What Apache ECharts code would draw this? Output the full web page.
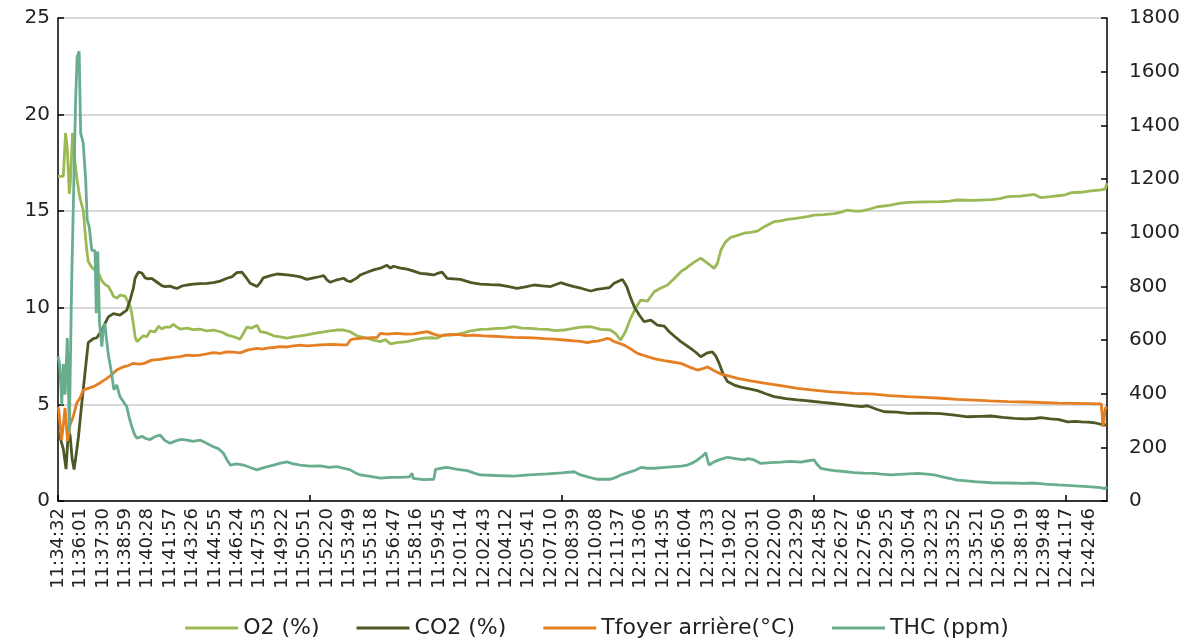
<!DOCTYPE html>
<html>
<head>
<meta charset="utf-8">
<title>Combustion</title>
<script src="https://cdn.jsdelivr.net/npm/echarts@6/dist/echarts.min.js"></script>
<style>
  html, body { margin: 0; padding: 0; background: #fff; }
  #chart { width: 1194px; height: 644px; }
</style>
</head>
<body>
<div id="chart"></div>
<script>
// Acquisition starts at 11:34:32 and is logged once per second.
const startClock = [11, 34, 32];
const sampleCount = 4166;

// Series: [seconds since start, value]
// O2 (%) and CO2 (%) on the left axis
const o2 = [
  [0,16.8],[21,16.8],[30,19.05],[37,18.2],[45,15.9],[49,16.5],[58,19.05],[65,17.8],[74,16.8],[83,16.0],[87,15.7],[101,15.0],[107,14.0],[114,13.0],[120,12.4],[134,12.1],[154,11.85],[164,11.7],[174,11.4],[187,11.2],[200,11.1],[213,10.8],[220,10.6],[233,10.5],[246,10.65],[253,10.7],[266,10.6],[273,10.5],[286,10.1],[293,9.7],[300,9.1],[306,8.5],[313,8.25],[326,8.4],[339,8.55],[352,8.5],[366,8.8],[385,8.75],[399,9.05],[412,8.9],[425,9.0],[445,9.0],[458,9.15],[472,9.0],[485,8.9],[512,8.95],[537,8.87],[564,8.9],[591,8.8],[617,8.85],[644,8.76],[657,8.7],[671,8.6],[697,8.5],[723,8.38],[737,8.7],[750,9.0],[770,8.95],[790,9.1],[803,8.77],[830,8.7],[856,8.55],[882,8.5],[909,8.43],[935,8.5],[962,8.55],[988,8.6],[1028,8.7],[1055,8.75],[1081,8.8],[1108,8.85],[1134,8.85],[1161,8.75],[1187,8.55],[1220,8.45],[1253,8.33],[1280,8.25],[1300,8.35],[1320,8.13],[1346,8.2],[1386,8.25],[1420,8.35],[1452,8.43],[1480,8.45],[1505,8.43],[1532,8.6],[1560,8.58],[1585,8.62],[1610,8.7],[1638,8.81],[1677,8.88],[1710,8.9],[1744,8.93],[1775,8.95],[1810,9.02],[1843,8.95],[1876,8.93],[1910,8.9],[1943,8.88],[1975,8.82],[2009,8.85],[2040,8.92],[2075,9.0],[2115,9.02],[2155,8.88],[2194,8.85],[2215,8.65],[2234,8.33],[2254,8.8],[2274,9.47],[2294,10.0],[2314,10.4],[2341,10.35],[2367,10.83],[2390,11.0],[2420,11.18],[2446,11.5],[2473,11.87],[2499,12.1],[2525,12.35],[2552,12.57],[2580,12.3],[2605,12.04],[2618,12.3],[2632,12.99],[2650,13.4],[2671,13.65],[2698,13.75],[2724,13.86],[2750,13.9],[2777,13.97],[2804,14.2],[2843,14.46],[2870,14.5],[2896,14.58],[2922,14.62],[2949,14.67],[2975,14.72],[3002,14.8],[3040,14.82],[3082,14.87],[3110,14.95],[3135,15.06],[3161,15.0],[3188,15.0],[3220,15.1],[3254,15.23],[3300,15.3],[3340,15.4],[3374,15.46],[3440,15.48],[3506,15.5],[3540,15.52],[3572,15.58],[3640,15.56],[3705,15.6],[3740,15.65],[3771,15.75],[3820,15.78],[3877,15.87],[3903,15.7],[3940,15.75],[3970,15.8],[4000,15.85],[4023,15.96],[4060,15.98],[4102,16.05],[4142,16.1],[4158,16.15],[4165,16.45]
];

const co2 = [
  [0,3.6],[10,3.2],[21,2.7],[32,1.65],[41,3.6],[48,3.4],[56,2.2],[64,1.63],[74,2.6],[81,3.3],[94,5.0],[107,6.6],[120,8.2],[140,8.4],[154,8.45],[174,8.84],[187,9.2],[200,9.53],[220,9.7],[246,9.62],[273,9.88],[286,10.4],[299,11.0],[306,11.53],[319,11.85],[333,11.8],[346,11.55],[359,11.5],[372,11.52],[385,11.4],[399,11.27],[412,11.15],[425,11.1],[445,11.12],[458,11.06],[472,11.0],[490,11.12],[512,11.18],[537,11.22],[564,11.25],[591,11.26],[617,11.3],[644,11.38],[671,11.53],[690,11.6],[710,11.82],[730,11.85],[745,11.6],[763,11.27],[790,11.1],[803,11.3],[815,11.55],[840,11.65],[869,11.75],[900,11.72],[935,11.66],[962,11.6],[988,11.47],[1015,11.55],[1041,11.62],[1055,11.66],[1068,11.45],[1081,11.32],[1108,11.45],[1134,11.53],[1148,11.4],[1161,11.35],[1187,11.55],[1200,11.7],[1230,11.85],[1253,11.96],[1280,12.05],[1306,12.2],[1320,12.05],[1332,12.15],[1360,12.05],[1386,12.0],[1412,11.9],[1439,11.78],[1465,11.75],[1492,11.7],[1510,11.8],[1525,11.85],[1545,11.52],[1570,11.5],[1598,11.47],[1640,11.3],[1677,11.23],[1717,11.2],[1757,11.18],[1790,11.1],[1823,11.0],[1856,11.08],[1890,11.18],[1923,11.14],[1956,11.1],[1996,11.3],[2020,11.2],[2049,11.1],[2080,11.0],[2115,10.87],[2140,10.95],[2168,11.0],[2190,11.05],[2208,11.27],[2241,11.47],[2258,11.1],[2274,10.5],[2290,10.0],[2308,9.63],[2327,9.28],[2354,9.36],[2380,9.1],[2407,9.05],[2427,8.76],[2450,8.5],[2473,8.25],[2495,8.05],[2512,7.9],[2532,7.7],[2552,7.47],[2579,7.67],[2598,7.72],[2612,7.5],[2625,7.13],[2640,6.6],[2658,6.18],[2685,6.0],[2711,5.89],[2745,5.8],[2777,5.71],[2810,5.55],[2843,5.4],[2890,5.3],[2936,5.23],[2970,5.2],[3002,5.15],[3035,5.1],[3069,5.06],[3110,5.0],[3161,4.92],[3190,4.88],[3214,4.93],[3250,4.75],[3281,4.62],[3330,4.6],[3374,4.54],[3440,4.55],[3506,4.52],[3560,4.45],[3612,4.36],[3660,4.38],[3705,4.4],[3750,4.33],[3797,4.28],[3840,4.25],[3877,4.27],[3903,4.32],[3940,4.25],[3970,4.22],[4009,4.1],[4040,4.12],[4063,4.1],[4090,4.08],[4115,4.05],[4155,3.93],[4165,3.97]
];

// Tfoyer arrière (°C) and THC (ppm) on the right axis
const tFoyer = [
  [0,351],[3,340],[14,227],[22,290],[28,347],[38,223],[48,284],[61,316],[74,364],[87,384],[101,414],[120,420],[140,426],[167,440],[194,457],[213,470],[233,488],[260,500],[280,505],[299,513],[320,510],[339,512],[372,525],[405,528],[430,532],[458,535],[485,538],[512,544],[537,542],[564,544],[591,548],[617,553],[644,550],[671,556],[697,555],[723,552],[755,563],[790,569],[810,566],[830,570],[856,572],[882,575],[909,574],[935,578],[962,581],[988,578],[1015,580],[1041,582],[1068,583],[1094,584],[1121,582],[1148,582],[1161,600],[1174,604],[1200,606],[1230,608],[1267,610],[1280,625],[1306,622],[1346,625],[1380,622],[1412,623],[1439,627],[1466,631],[1492,622],[1518,615],[1550,620],[1585,621],[1620,616],[1651,618],[1690,615],[1730,614],[1770,612],[1810,610],[1850,609],[1890,608],[1930,605],[1969,603],[2010,600],[2049,597],[2075,595],[2102,590],[2120,594],[2142,596],[2160,600],[2181,606],[2195,602],[2208,594],[2228,588],[2248,581],[2275,566],[2301,550],[2320,544],[2341,538],[2370,530],[2407,523],[2440,518],[2473,513],[2505,500],[2539,488],[2560,493],[2579,500],[2600,488],[2632,473],[2665,465],[2698,457],[2750,448],[2804,439],[2870,430],[2936,420],[3000,413],[3069,407],[3120,404],[3161,401],[3200,400],[3241,398],[3300,393],[3374,389],[3440,386],[3506,383],[3570,379],[3639,376],[3700,373],[3771,370],[3840,369],[3903,367],[3970,365],[4036,364],[4100,363],[4142,362],[4146,320],[4149,277],[4153,300],[4158,345],[4165,350]
];

const thc = [
  [0,539],[6,511],[12,420],[15,359],[21,511],[28,396],[37,607],[45,260],[54,806],[62,1150],[70,1494],[76,1656],[84,1676],[90,1371],[100,1335],[110,1196],[116,1047],[124,1022],[134,935],[147,932],[152,700],[158,930],[165,662],[174,575],[180,640],[186,662],[193,600],[200,545],[212,480],[222,414],[233,433],[246,389],[260,370],[273,351],[283,310],[293,277],[303,250],[313,234],[333,241],[350,232],[366,229],[385,240],[405,246],[425,225],[445,215],[470,225],[490,230],[512,227],[537,222],[564,227],[590,215],[617,202],[637,195],[657,178],[670,155],[684,134],[710,138],[737,134],[763,125],[790,116],[820,125],[856,134],[880,140],[909,146],[935,138],[962,134],[1000,130],[1041,131],[1075,125],[1108,128],[1135,122],[1161,116],[1180,105],[1200,97],[1240,92],[1280,85],[1320,88],[1359,88],[1395,90],[1406,103],[1410,84],[1450,80],[1492,81],[1497,81],[1499,118],[1520,122],[1545,125],[1585,118],[1625,113],[1650,105],[1677,97],[1740,95],[1810,93],[1870,97],[1943,101],[2000,105],[2049,109],[2075,97],[2110,88],[2142,81],[2194,81],[2215,88],[2234,97],[2260,105],[2288,113],[2314,125],[2340,122],[2367,122],[2410,125],[2446,128],[2475,130],[2499,134],[2520,142],[2539,153],[2560,168],[2572,180],[2580,150],[2585,134],[2605,146],[2630,155],[2658,163],[2690,158],[2724,153],[2740,158],[2764,153],[2790,140],[2830,143],[2870,145],[2910,148],[2949,145],[2980,150],[3002,153],[3015,135],[3029,122],[3055,117],[3082,113],[3120,110],[3161,106],[3200,104],[3241,103],[3270,100],[3307,97],[3360,100],[3413,103],[3450,100],[3479,97],[3520,88],[3572,78],[3640,72],[3705,68],[3770,67],[3837,66],[3877,67],[3920,63],[3970,60],[4040,56],[4102,53],[4140,50],[4155,46],[4165,52]
];

const seriesNames = ['O2 (%)', 'CO2 (%)', 'Tfoyer arrière(°C)', 'THC (ppm)'];
const seriesColors = ['#9BB955', '#4B5925', '#E67E22', '#69AD8F'];

// one category per logged second
function clockLabel(offset) {
  const t = startClock[0] * 3600 + startClock[1] * 60 + startClock[2] + offset;
  const h = Math.floor(t / 3600), m = Math.floor((t % 3600) / 60), s = t % 60;
  const p = n => String(n).padStart(2, '0');
  return p(h) + ':' + p(m) + ':' + p(s);
}
const timeLabels = [];
for (let i = 0; i < sampleCount; i++) timeLabels.push(clockLabel(i));

const FONT = 'DejaVu Sans';
const TEXT = '#222';

const chart = echarts.init(document.getElementById('chart'), null, { renderer: 'canvas' });

const lineSeries = (name, data, color, axis) => ({
  name, type: 'line', data, yAxisIndex: axis,
  symbol: 'none', showSymbol: false, smooth: false,
  lineStyle: { color, width: 2.8 },
  itemStyle: { color },
  emphasis: { disabled: true }
});

chart.setOption({
  animation: false,
  backgroundColor: '#fff',
  grid: { left: 58, right: 87, top: 18, bottom: 143 },
  legend: {
    data: seriesNames,
    left: 'center',
    top: 612,
    icon: 'rect',
    itemWidth: 53,
    itemHeight: 3,
    itemGap: 37,
    textStyle: { fontFamily: FONT, fontSize: 22, color: TEXT }
  },
  xAxis: {
    type: 'category',
    data: timeLabels,
    boundaryGap: false,
    axisLine: { lineStyle: { color: '#000', width: 1.5 } },
    axisTick: { show: true, inside: true, interval: 999, length: 6, lineStyle: { color: '#000', width: 1.5 } },
    axisLabel: { interval: 88, rotate: 90, fontFamily: FONT, fontSize: 18, color: TEXT, margin: 7 },
    splitLine: { show: false }
  },
  yAxis: [
    {
      type: 'value', position: 'left', min: 0, max: 25, interval: 5,
      axisLine: { show: true, lineStyle: { color: '#000', width: 1.5 } },
      axisTick: { show: true, inside: true, length: 6, lineStyle: { color: '#000', width: 1.5 } },
      axisLabel: { fontFamily: FONT, fontSize: 20, color: TEXT, margin: 8, formatter: v => String(v) },
      splitLine: { show: true, lineStyle: { color: '#d9d9d9', width: 2 } }
    },
    {
      type: 'value', position: 'right', min: 0, max: 1800, interval: 200,
      axisLine: { show: true, lineStyle: { color: '#000', width: 1.5 } },
      axisTick: { show: true, inside: true, length: 6, lineStyle: { color: '#000', width: 1.5 } },
      axisLabel: { fontFamily: FONT, fontSize: 20, color: TEXT, margin: 22, formatter: v => String(v) },
      splitLine: { show: false }
    }
  ],
  series: [
    lineSeries(seriesNames[0], o2, seriesColors[0], 0),
    lineSeries(seriesNames[1], co2, seriesColors[1], 0),
    lineSeries(seriesNames[2], tFoyer, seriesColors[2], 1),
    lineSeries(seriesNames[3], thc, seriesColors[3], 1)
  ]
});
</script>
</body>
</html>
